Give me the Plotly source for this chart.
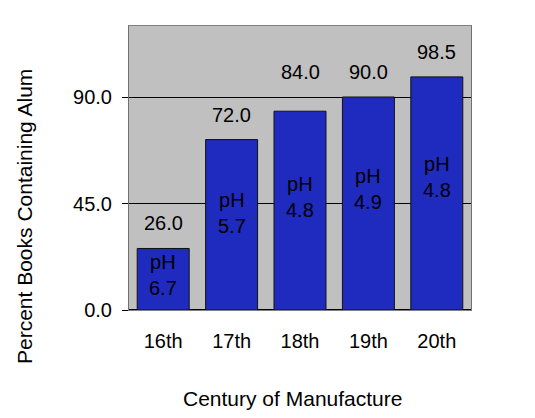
import plotly.graph_objects as go

centuries = ["16th", "17th", "18th", "19th", "20th"]
percent_alum = [26.0, 72.0, 84.0, 90.0, 98.5]
ph_values = [6.7, 5.7, 4.8, 4.9, 4.8]
y_ticks = [0, 45, 90]

FONT = "Liberation Sans, Arial, sans-serif"
FS = 20
FS_TITLE = 21

fig = go.Figure()
fig.add_trace(go.Bar(
    x=centuries,
    y=percent_alum,
    marker=dict(color="#1F2BBE", line=dict(color="#101010", width=1)),
    width=0.76,
    hoverinfo="skip",
))

# value labels above bars (lifted above a gridline if they would sit on it)
for c, v in zip(centuries, percent_alum):
    base = v
    for t in y_ticks:
        if 0 < t - v < 10:
            base = t
    fig.add_annotation(x=c, y=base, text=f"{v:.1f}", showarrow=False,
                       yanchor="bottom", yshift=12,
                       font=dict(family=FONT, size=FS, color="black"))

# pH labels inside bars
for c, v, p in zip(centuries, percent_alum, ph_values):
    fig.add_annotation(x=c, y=v * 0.57, text=f"pH<br>{p:.1f}", showarrow=False,
                       xanchor="center", yanchor="middle",
                       font=dict(family=FONT, size=FS, color="black"))

fig.add_annotation(xref="paper", yref="paper", x=-0.304, y=0.3275,
                   text="Percent Books Containing Alum", textangle=-90,
                   showarrow=False, xanchor="center", yanchor="middle",
                   font=dict(family=FONT, size=FS_TITLE, color="black"))
fig.add_annotation(xref="paper", yref="paper", x=0.4795, y=-0.31,
                   text="Century of Manufacture",
                   showarrow=False, xanchor="center", yanchor="middle",
                   font=dict(family=FONT, size=FS_TITLE, color="black"))

fig.update_layout(
    width=535, height=418,
    margin=dict(l=121, r=72, t=18, b=116, autoexpand=False),
    paper_bgcolor="white",
    plot_bgcolor="#C0C0C0",
    showlegend=False,
    font=dict(family=FONT, size=FS, color="black"),
)
fig.update_xaxes(
    showline=True, linecolor="#808080", linewidth=1, mirror=True,
    ticks="", tickfont=dict(size=FS), ticklabelstandoff=13,
)
fig.update_yaxes(
    range=[0, 120], tickvals=y_ticks, ticktext=[f"{t:.1f}" for t in y_ticks],
    showgrid=True, gridcolor="black", gridwidth=1,
    showline=True, linecolor="#707070", linewidth=1, mirror=True,
    ticks="outside", ticklen=6, tickcolor="black",
    zeroline=True, zerolinecolor="black",
    tickfont=dict(size=FS), ticklabelstandoff=6,
)

fig.write_html("out.html")
